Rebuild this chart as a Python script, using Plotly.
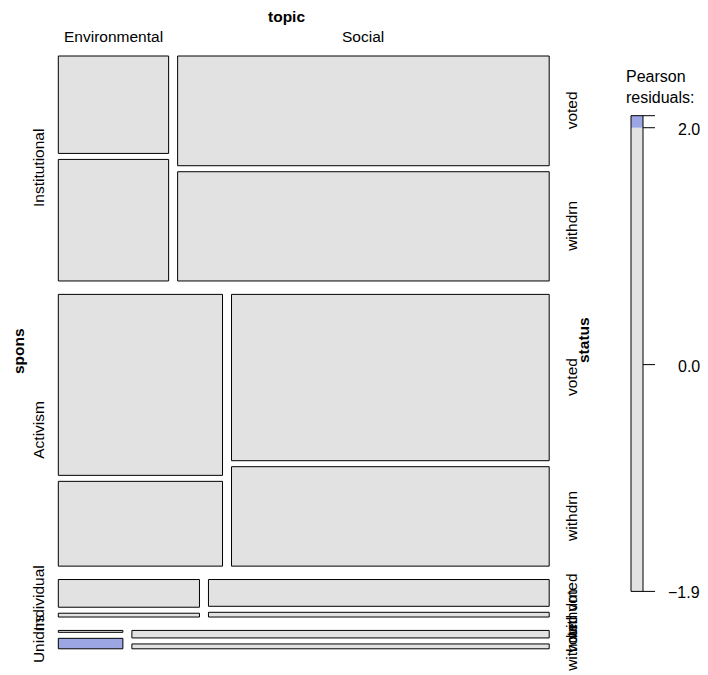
import numpy as np
import plotly.graph_objects as go

# ---- data: proposal counts by sponsor, topic and status ----
spons = ["Institutional", "Activism", "Individual", "Unidns"]
topic = ["Environmental", "Social"]
status = ["voted", "withdrn"]

# [topic][status] counts for each sponsor group
institutional = [[121, 151], [459, 457]]
activism = [[333, 156], [592, 354]]
individual = [[51, 7], [119, 21]]
unidns = [[2, 11], [51, 33]]

counts = np.array([institutional, activism, individual, unidns], dtype=float)

# ---- model: status independent of topic within each sponsor group ----
n_st = counts.sum(axis=2, keepdims=True)
n_sk = counts.sum(axis=1, keepdims=True)
n_s = counts.sum(axis=(1, 2), keepdims=True)
expected = n_st * n_sk / n_s
resid = (counts - expected) / np.sqrt(expected)

# ---- page geometry ----
W, H = 708, 675
X0, X1 = 58.3, 549.2          # mosaic box
Y0, Y1 = 56.0, 648.8
GAP_S, GAP_T, GAP_K = 13.4, 9.0, 6.0

FONT = "Liberation Sans, Arial, sans-serif"
FS = 15.5

GRAY = "#E2E2E2"
BLUE_L = "#9CA6E2"
BLUE_D = "#2F5FD0"
RED_L = "#E2A0A6"
RED_D = "#D0304A"


def shade(r):
    if r > 4:
        return BLUE_D
    if r > 2:
        return BLUE_L
    if r < -4:
        return RED_D
    if r < -2:
        return RED_L
    return GRAY


shapes = []
annotations = []

N = counts.sum()
avail_h = (Y1 - Y0) - GAP_S * (len(spons) - 1)
avail_w = (X1 - X0) - GAP_T * (len(topic) - 1)

row_centers = []
top_col_centers = []
right_status_centers = []

y = Y0
for i, s in enumerate(spons):
    rh = counts[i].sum() / N * avail_h
    row_centers.append(y + rh / 2)
    x = X0
    for j, t in enumerate(topic):
        cw = counts[i, j].sum() / counts[i].sum() * avail_w
        if i == 0:
            top_col_centers.append(x + cw / 2)
        sub_avail = rh - GAP_K * (len(status) - 1)
        yy = y
        for k, st in enumerate(status):
            sh = counts[i, j, k] / counts[i, j].sum() * sub_avail
            shapes.append(dict(
                type="rect", xref="x", yref="y",
                x0=x, x1=x + cw, y0=yy, y1=yy + sh,
                fillcolor=shade(resid[i, j, k]),
                line=dict(color="black", width=1),
                layer="above",
            ))
            if j == len(topic) - 1:
                right_status_centers.append((st, yy + sh / 2))
            yy += sh + GAP_K
        x += cw + GAP_T
    y += rh + GAP_S

# ---- labels around the mosaic ----
def ann(text, x, y, size=FS, bold=False, angle=0, xanchor="center"):
    annotations.append(dict(
        text=f"<b>{text}</b>" if bold else text,
        x=x, y=y, xref="x", yref="y", showarrow=False,
        textangle=angle, xanchor=xanchor, yanchor="middle",
        font=dict(family=FONT, size=size, color="black"),
    ))


ann("topic", 286, 16.5, bold=True)
for t, cx in zip(topic, top_col_centers):
    ann(t, cx, 36.5)

ann("spons", 18, 351, bold=True, angle=-90)
for s, cy in zip(spons, row_centers):
    ann(s, 38.5, cy, angle=-90)

ann("status", 583, 340, bold=True, angle=-90)
for st, cy in right_status_centers:
    ann(st, 571.5, cy, angle=-90)

# ---- residual legend ----
BX0, BX1 = 631.0, 643.0
BY0, BY1 = 115.7, 591.4
rmin, rmax = resid.min(), resid.max()


def ry(r):
    return BY0 + (rmax - r) / (rmax - rmin) * (BY1 - BY0)


cuts = [-4, -2, 2, 4]
edges = [rmin] + [c for c in cuts if rmin < c < rmax] + [rmax]
for lo, hi in zip(edges[:-1], edges[1:]):
    mid = (lo + hi) / 2
    shapes.append(dict(
        type="rect", xref="x", yref="y",
        x0=BX0, x1=BX1, y0=ry(hi), y1=ry(lo),
        fillcolor=shade(mid), line=dict(width=0), layer="above",
    ))
shapes.append(dict(
    type="rect", xref="x", yref="y", x0=BX0, x1=BX1, y0=BY0, y1=BY1,
    fillcolor="rgba(0,0,0,0)", line=dict(color="black", width=1), layer="above",
))

tick_vals = sorted(set([rmin, rmax, 0.0] + [c for c in cuts if rmin < c < rmax]))
labelled = []
for v in sorted(tick_vals, key=lambda v: (v not in cuts and v != 0.0, v)):
    shapes.append(dict(
        type="line", xref="x", yref="y", x0=BX1, x1=BX1 + 12, y0=ry(v), y1=ry(v),
        line=dict(color="black", width=1), layer="above",
    ))
    if all(abs(v - u) > 0.25 for u in labelled):
        labelled.append(v)
        txt = f"{v:.1f}".replace("-", "\u2212")
        ann(txt, 702, ry(v) + 1.5, size=16, xanchor="right")

annotations.append(dict(
    text="Pearson<br>residuals:", x=624, y=87, xref="x", yref="y",
    showarrow=False, xanchor="left", yanchor="middle", align="left",
    font=dict(family=FONT, size=16, color="black"),
))

fig = go.Figure()
fig.update_layout(
    width=W, height=H,
    margin=dict(l=0, r=0, t=0, b=0),
    paper_bgcolor="white", plot_bgcolor="white",
    xaxis=dict(range=[0, W], visible=False, fixedrange=True),
    yaxis=dict(range=[H, 0], visible=False, fixedrange=True),
    shapes=shapes, annotations=annotations, showlegend=False,
)
fig.write_html("out.html")
